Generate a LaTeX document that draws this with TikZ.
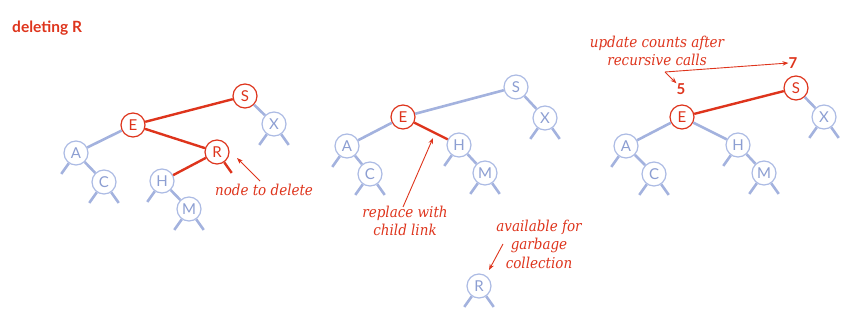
\documentclass[tikz,border=0pt]{standalone}
\usepackage{fontspec}
\usetikzlibrary{arrows.meta}
\newfontfamily\keyfont{Lato}
\newfontfamily\headfont{Lato}[UprightFont=* Bold]
\newfontfamily\notefont{DejaVu Serif Condensed}

\definecolor{hotred}{RGB}{222,52,28}
\definecolor{linkblue}{RGB}{163,178,222}
\definecolor{keyline}{RGB}{172,187,228}
\definecolor{keytext}{RGB}{140,158,210}

\tikzset{
  key/.style={circle, draw=keyline, fill=white, line width=1.2pt,
    minimum size=24pt, inner sep=0pt, text=keytext,
    font=\keyfont\fontsize{15}{15}\selectfont},
  hot/.style={key, draw=hotred, text=hotred},
  link/.style={line width=2.6pt, draw=linkblue},
  hotlink/.style={line width=2.4pt, draw=hotred},
  note/.style={text=hotred, align=center, inner sep=0pt,
    font=\notefont\itshape\fontsize{15}{18.5}\selectfont},
  count/.style={text=hotred, inner sep=0pt,
    font=\headfont\fontsize{15}{15}\selectfont},
  pointer/.style={draw=hotred, line width=0.9pt,
    -{Stealth[length=6pt,width=4.5pt]}},
}
% null links hanging below a node (y axis points down)
\newcommand{\nullleft}[2][link]{\draw[#1] (#2.-125) -- ++(-7.5,10.6);}
\newcommand{\nullright}[2][link]{\draw[#1] (#2.-55) -- ++(7.5,10.6);}
\newcommand{\nullboth}[1]{\nullleft{#1}\nullright{#1}}

\begin{document}
\begin{tikzpicture}[x=1pt,y=-1pt]
\path[use as bounding box] (0,0) rectangle (856,323);

\node[anchor=west, text=hotred, inner sep=0pt,
  font=\headfont\fontsize{15.5}{15.5}\selectfont] (title) at (12,28) {deleting R};

% ---------- tree before the deletion ----------
\node[hot] (S1) at (245,96) {S};
\node[hot] (E1) at (133,125) {E};
\node[key] (X1) at (274,124) {X};
\node[key] (A1) at (76,153) {A};
\node[hot] (R1) at (217,152) {R};
\node[key] (C1) at (104,182) {C};
\node[key] (H1) at (162,181) {H};
\node[key] (M1) at (189,209) {M};

\draw[hotlink] (S1) -- (E1);
\draw[link] (S1) -- (X1);
\draw[link] (E1) -- (A1);
\draw[hotlink] (E1) -- (R1);
\draw[link] (A1) -- (C1);
\draw[hotlink] (R1) -- (H1);
\draw[link] (H1) -- (M1);
\nullboth{X1}
\nullleft{A1}
\nullboth{C1}
\nullleft{H1}
\nullboth{M1}
\nullright[hotlink]{R1}

\node[note] (del) at (264,190) {node to delete};
\coordinate (delTail) at (260,181);
\coordinate (delTip) at (237,158);
\draw[pointer] (delTail) -- (delTip);

% ---------- R replaced by its child ----------
\node[key] (S2) at (516,87) {S};
\node[hot] (E2) at (403,117) {E};
\node[key] (X2) at (545,118) {X};
\node[key] (A2) at (347,146) {A};
\node[key] (H2) at (459,145) {H};
\node[key] (C2) at (370,174) {C};
\node[key] (M2) at (485,173) {M};
\node[key] (R2) at (479,286) {R};

\draw[link] (S2) -- (E2);
\draw[link] (S2) -- (X2);
\draw[link] (E2) -- (A2);
\draw[hotlink] (E2) -- (H2);
\draw[link] (A2) -- (C2);
\draw[link] (H2) -- (M2);
\nullboth{X2}
\nullleft{A2}
\nullboth{C2}
\nullleft{H2}
\nullboth{M2}
\nullboth{R2}

\node[note] (rep) at (405,221) {replace with\\child link};
\coordinate (repTail) at (403,207);
\coordinate (repTip) at (433,138);
\draw[pointer] (repTail) -- (repTip);

\node[note] (avail) at (539,244) {available for\\garbage\\collection};
\coordinate (availTail) at (503,244);
\coordinate (availTip) at (489,270);
\draw[pointer] (availTail) -- (availTip);

% ---------- counts updated on the way up ----------
\node[hot] (S3) at (796,88) {S};
\node[hot] (E3) at (682,117) {E};
\node[key] (X3) at (824,117) {X};
\node[key] (A3) at (626,146) {A};
\node[key] (H3) at (738,145) {H};
\node[key] (C3) at (654,174) {C};
\node[key] (M3) at (764,173) {M};

\draw[hotlink] (S3) -- (E3);
\draw[link] (S3) -- (X3);
\draw[link] (E3) -- (A3);
\draw[link] (E3) -- (H3);
\draw[link] (A3) -- (C3);
\draw[link] (H3) -- (M3);
\nullboth{X3}
\nullleft{A3}
\nullboth{C3}
\nullleft{H3}
\nullboth{M3}

\node[count] (seven) at (793,63) {7};
\node[count] (five) at (681,89) {5};

\node[note] (upd) at (657,51) {update counts after\\recursive calls};
\coordinate (fork) at (665,72);
\draw[pointer] (fork) -- (seven.west);
\draw[pointer] (fork) -- (five.north west);
\end{tikzpicture}
\end{document}
